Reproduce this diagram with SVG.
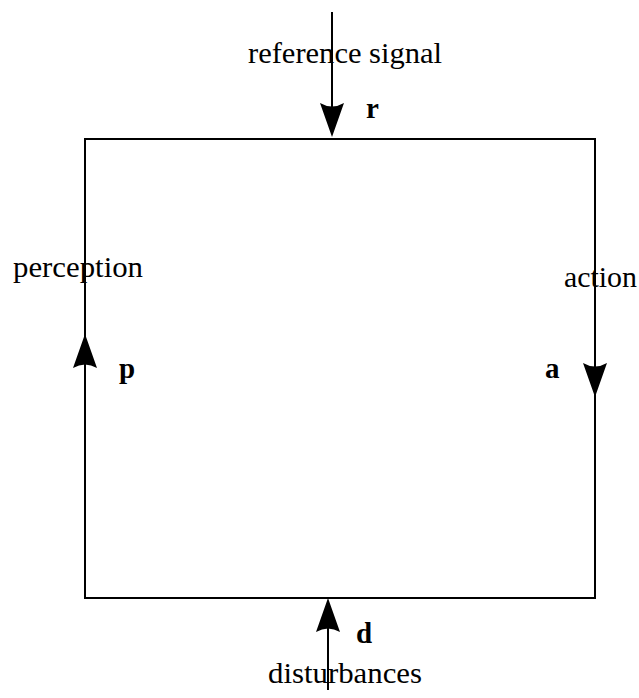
<svg xmlns="http://www.w3.org/2000/svg" width="639" height="698" viewBox="0 0 639 698">
<style>
.ln{stroke:#000;stroke-width:2;fill:none}
.ah{fill:#000}
text{fill:#000;font-size:29px}
.b{font-weight:bold}
</style>
<rect width="639" height="698" fill="#fff"/>
<g id="loop">
<rect x="85" y="139" width="510" height="459" class="ln"/>
</g>
<g id="connectors">
<line x1="332" y1="12" x2="332" y2="110" class="ln"/>
<path class="ah" d="M332,137 L320,103 Q332,110 344,103 Z"/>
<path class="ah" d="M85,334 L73,368 Q85,361 97,368 Z"/>
<path class="ah" d="M595,397 L583,363 Q595,370 607,363 Z"/>
<line x1="328" y1="620" x2="328" y2="690" class="ln"/>
<path class="ah" d="M328,598 L316,632 Q328,625 340,632 Z"/>
</g>
<g id="reference" font-family="Liberation Serif, serif"><text x="248" y="63" textLength="194" lengthAdjust="spacingAndGlyphs">reference signal</text><text class="b" x="366" y="118">r</text></g>
<g id="perception" font-family="Liberation Serif, serif"><text x="13" y="277" textLength="130" lengthAdjust="spacingAndGlyphs">perception</text><text class="b" x="119" y="378">p</text></g>
<g id="action" font-family="Liberation Serif, serif"><text x="564" y="287" textLength="73" lengthAdjust="spacingAndGlyphs">action</text><text class="b" x="545" y="378">a</text></g>
<g id="disturbances" font-family="Liberation Serif, serif"><text x="268" y="683" textLength="154" lengthAdjust="spacingAndGlyphs">disturbances</text><text class="b" x="356" y="643">d</text></g>
</svg>
